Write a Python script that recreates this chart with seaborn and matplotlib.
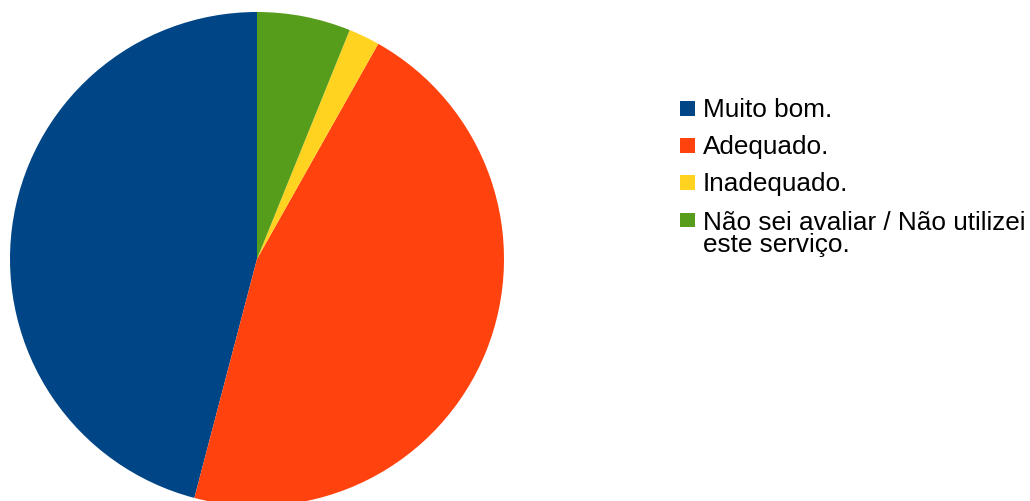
import matplotlib
matplotlib.use("Agg")
import matplotlib.pyplot as plt
import seaborn as sns
from matplotlib.patches import Rectangle

categories = ["Muito bom.", "Adequado.", "Inadequado.", "Não sei avaliar / Não utilizei\neste serviço."]
values = [45, 45, 2, 6]
colors = ["#004586", "#ff420e", "#ffd320", "#579d1c"]

sns.set_theme(style="white")
plt.rcParams['font.family'] = ['Liberation Sans', 'DejaVu Sans']

W, H = 1030, 501
fig = plt.figure(figsize=(W / 100, H / 100), dpi=100)
fig.patch.set_facecolor("white")

cx, cy, r = 257, 259, 247
ax = fig.add_axes([(cx - r) / W, (H - cy - r) / H, 2 * r / W, 2 * r / H])
ax.pie(values, colors=colors, startangle=90, counterclock=True,
       wedgeprops=dict(linewidth=0), radius=1.0)
ax.set_xlim(-1, 1)
ax.set_ylim(-1, 1)
ax.set_aspect("equal")
ax.axis("off")

# legend
fs = 18.8
sq = 14.5
x0 = 680
line_gap = 24
y_centers = [108.5, 145.5, 182.5, 220]
for lab, col, yc in zip(categories, colors, y_centers):
    fig.add_artist(Rectangle((x0 / W, (H - yc - sq / 2) / H), sq / W, sq / H,
                             transform=fig.transFigure, facecolor=col, edgecolor="none"))
    nl = lab.count("\n")
    base = yc + 8.2 + nl * line_gap
    fig.text(703 / W, (H - base) / H, lab, fontsize=fs, color="black",
             ha="left", va="baseline", linespacing=0.9)

fig.savefig("out.png", dpi=100, facecolor="white")
